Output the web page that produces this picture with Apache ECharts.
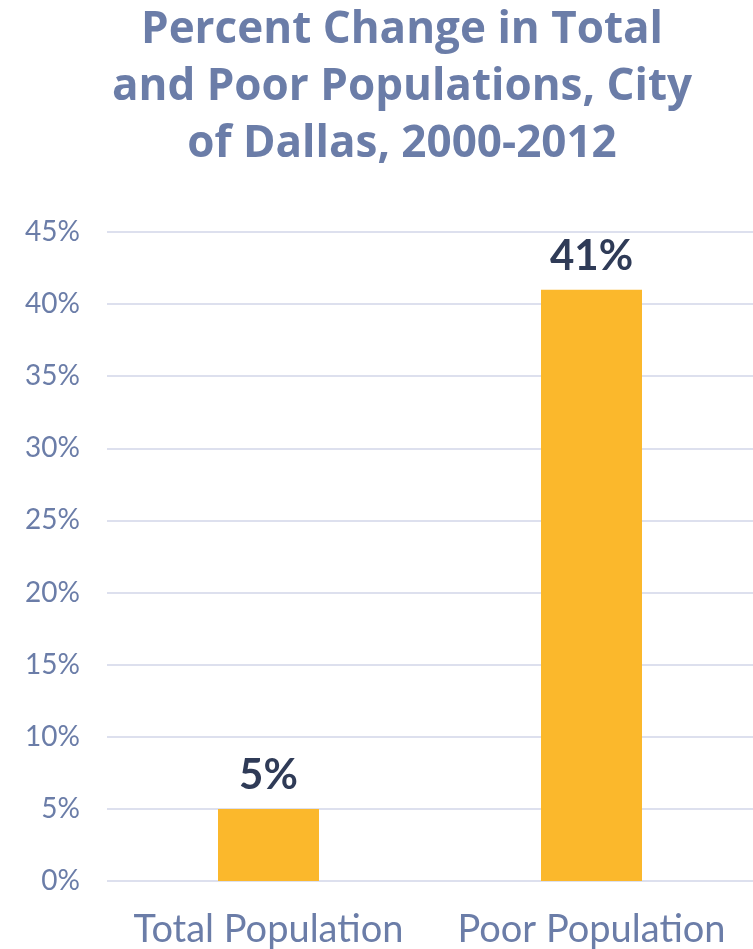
<!DOCTYPE html>
<html>
<head>
<meta charset="utf-8">
<script src="https://cdn.jsdelivr.net/npm/echarts@6/dist/echarts.min.js"></script>
<style>
  html, body { margin: 0; padding: 0; background: #ffffff; }
  #chart { width: 753px; height: 949px; }
</style>
</head>
<body>
<div id="chart"></div>
<script>
// Percent change, City of Dallas, 2000-2012
const categories = ['Total Population', 'Poor Population'];
const percentChange = [5, 41];
const yTicks = [0, 5, 10, 15, 20, 25, 30, 35, 40, 45];

const titleColor = '#6B7DA8';
const axisColor = '#6B7DA8';
const barColor = '#FBB82C';
const labelColor = '#2F3B57';

const chart = echarts.init(document.getElementById('chart'), null, { renderer: 'canvas' });

chart.setOption({
  animation: false,
  backgroundColor: '#ffffff',
  title: {
    text: 'Percent Change in Total\nand Poor Populations, City\nof Dallas, 2000-2012',
    left: 397,
    top: -3,
    textAlign: 'center',
    textStyle: {
      fontFamily: 'Open Sans',
      fontWeight: 'bold',
      fontSize: 44,
      lineHeight: 57,
      color: titleColor
    }
  },
  grid: {
    left: 107,
    right: 0,
    top: 232,
    bottom: 67,
    containLabel: false
  },
  xAxis: {
    type: 'category',
    data: categories,
    axisLine: { show: false },
    axisTick: { show: false },
    axisLabel: {
      interval: 0,
      hideOverlap: false,
      color: axisColor,
      fontFamily: 'Lato',
      fontSize: 38,
      margin: 30
    }
  },
  yAxis: {
    type: 'value',
    min: yTicks[0],
    max: yTicks[yTicks.length - 1],
    interval: 5,
    axisLine: { show: false },
    axisTick: { show: false },
    splitLine: { lineStyle: { color: '#DDE0EE', width: 2 } },
    axisLabel: {
      color: axisColor,
      fontFamily: 'Lato',
      fontSize: 28,
      margin: 27,
      formatter: v => v + '%'
    }
  },
  series: [{
    type: 'bar',
    data: percentChange,
    barWidth: 101,
    itemStyle: { color: barColor },
    label: {
      show: true,
      position: 'top',
      distance: 12,
      color: labelColor,
      fontFamily: 'Lato',
      fontWeight: 'bold',
      fontSize: 42,
      formatter: p => p.value + '%'
    }
  }]
});
</script>
</body>
</html>
